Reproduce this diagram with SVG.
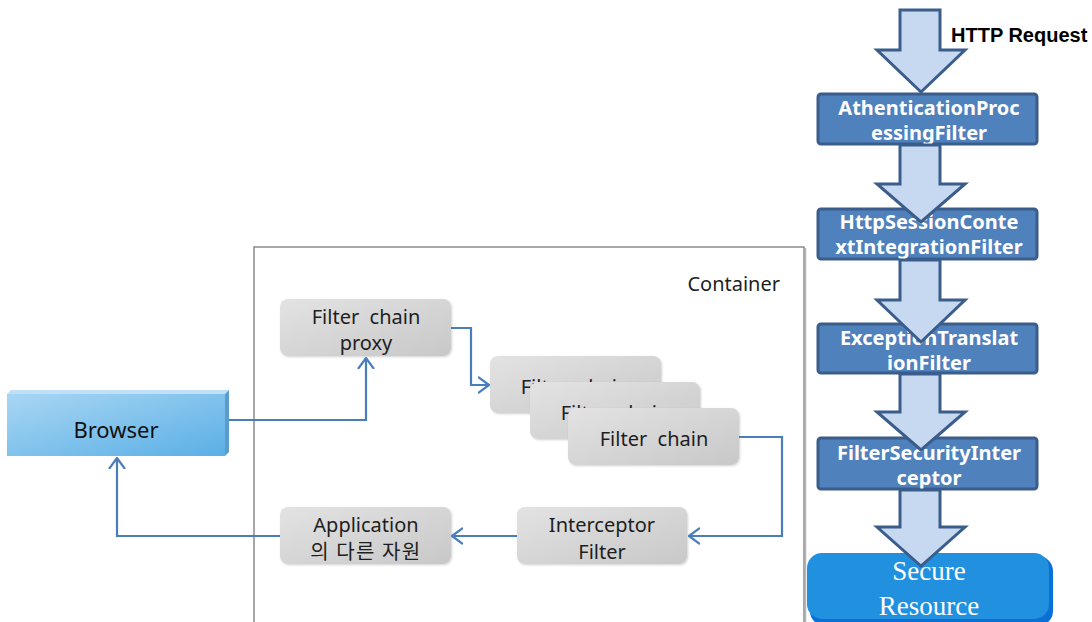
<svg xmlns="http://www.w3.org/2000/svg" width="1092" height="622" viewBox="0 0 1092 622">
  <defs>
    <linearGradient id="grayBox" x1="0" y1="0" x2="1" y2="1">
      <stop offset="0" stop-color="#e3e3e3"/>
      <stop offset="1" stop-color="#c8c8c8"/>
    </linearGradient>
    <linearGradient id="browserFace" x1="0" y1="0" x2="1" y2="1">
      <stop offset="0" stop-color="#a9d6f3"/>
      <stop offset="1" stop-color="#5aafe6"/>
    </linearGradient>
    <marker id="chevron" viewBox="0 0 12 18" refX="11" refY="9" markerWidth="12" markerHeight="18" markerUnits="userSpaceOnUse" orient="auto">
      <path d="M0,1 L11,9 L0,17" fill="none" stroke="#4a7ebb" stroke-width="2.2"/>
    </marker>
    <filter id="soft" x="-5%" y="-5%" width="115%" height="120%">
      <feDropShadow dx="1" dy="1" stdDeviation="1" flood-color="#000" flood-opacity="0.18"/>
    </filter>
  </defs>
  <style>
    .gbox { fill: url(#grayBox); filter: url(#soft); }
    .glabel { font-family: "Noto Sans", "Noto Sans CJK KR", sans-serif; font-size: 20px; fill: #1e1e1e; text-anchor: middle; white-space: pre; }
    .klabel { font-family: "Noto Sans CJK KR", sans-serif; font-size: 20px; fill: #1e1e1e; text-anchor: middle; white-space: pre; }
    .flow { fill: none; stroke: #4a7ebb; stroke-width: 2.2; }
    .sbox { fill: #4f81bd; stroke: #3a5d8b; stroke-width: 3; }
    .slabel { font-family: "Noto Sans", sans-serif; font-weight: bold; font-size: 20px; fill: #ffffff; text-anchor: middle; }
    .bigarrow { fill: #c6d9f0; stroke: #3a5d8b; stroke-width: 3; stroke-linejoin: miter; }
    .serif { font-family: "Liberation Serif", serif; font-size: 27px; fill: #ffffff; text-anchor: middle; }
  </style>

  <rect width="1092" height="622" fill="#ffffff"/>

  <!-- servlet container frame -->
  <g id="container">
    <path d="M254,622 V247 H804 V622" fill="none" stroke="#8a8a8a" stroke-width="1.5"/>
    <line x1="805.5" y1="248" x2="805.5" y2="622" stroke="#b5b5b5" stroke-width="1.5"/>
    <text x="780" y="291" font-family="Noto Sans, sans-serif" font-size="20" fill="#1e1e1e" text-anchor="end">Container</text>
  </g>

  <g id="browser">
    <polygon points="7,394 11,390 229,390 225,394" fill="#bfe0f6"/>
    <polygon points="225,394 229,390 229,452 225,456" fill="#5b9ccc"/>
    <rect x="7" y="394" width="218" height="62" fill="url(#browserFace)"/>
    <text x="116" y="438" font-family="Noto Sans, sans-serif" font-size="22" fill="#111" text-anchor="middle">Browser</text>
  </g>

  <g id="filter-chain-proxy">
    <rect class="gbox" x="280" y="299" width="171" height="57" rx="8"/>
    <text class="glabel" x="366" y="324">Filter  chain</text>
    <text class="glabel" x="366" y="350">proxy</text>
  </g>

  <g id="filter-chain-1">
    <rect class="gbox" x="490" y="356" width="171" height="57" rx="8"/>
    <text class="glabel" x="575" y="394">Filter  chain</text>
  </g>

  <g id="filter-chain-2">
    <rect class="gbox" x="530" y="382" width="170" height="57" rx="8"/>
    <text class="glabel" x="615" y="420">Filter  chain</text>
  </g>

  <g id="filter-chain-3">
    <rect class="gbox" x="568" y="408" width="171" height="57" rx="8"/>
    <text class="glabel" x="654" y="446">Filter  chain</text>
  </g>

  <g id="interceptor-filter">
    <rect class="gbox" x="517" y="507" width="170" height="57" rx="8"/>
    <text class="glabel" x="602" y="532">Interceptor</text>
    <text class="glabel" x="602" y="559">Filter</text>
  </g>

  <g id="application-resources">
    <rect class="gbox" x="280" y="507" width="171" height="57" rx="8"/>
    <text class="glabel" x="366" y="532">Application</text>
    <text class="klabel" x="366" y="559" letter-spacing="1.5">의 다른 자원</text>
  </g>

  <!-- request flow inside the container -->
  <g id="connectors">
    <path class="flow" d="M229,420 H366 V358" marker-end="url(#chevron)"/>
    <path class="flow" d="M451,328 H471 V385 H489" marker-end="url(#chevron)"/>
    <path class="flow" d="M739,437 H782 V536 H689" marker-end="url(#chevron)"/>
    <path class="flow" d="M517,536 H452" marker-end="url(#chevron)"/>
    <path class="flow" d="M280,536 H117 V458" marker-end="url(#chevron)"/>
  </g>

  <!-- security filter stack -->
  <g id="authentication-processing-filter">
    <rect class="sbox" x="818" y="94" width="219" height="50" rx="3"/>
    <text class="slabel" x="929" y="115">AthenticationProc</text>
    <text class="slabel" x="929" y="140">essingFilter</text>
  </g>

  <g id="http-session-context-integration-filter">
    <rect class="sbox" x="818" y="209" width="219" height="50" rx="3"/>
    <text class="slabel" x="929" y="229">HttpSessionConte</text>
    <text class="slabel" x="929" y="254">xtIntegrationFilter</text>
  </g>

  <g id="exception-translation-filter">
    <rect class="sbox" x="818" y="324" width="219" height="49" rx="3"/>
    <text class="slabel" x="929" y="345">ExceptionTranslat</text>
    <text class="slabel" x="929" y="370">ionFilter</text>
  </g>

  <g id="filter-security-interceptor">
    <rect class="sbox" x="818" y="438" width="219" height="51" rx="3"/>
    <text class="slabel" x="929" y="460">FilterSecurityInter</text>
    <text class="slabel" x="929" y="485">ceptor</text>
  </g>

  <g id="secure-resource">
    <rect x="810" y="556" width="243" height="70" rx="15" fill="#0b6fd8"/>
    <rect x="807" y="553" width="242" height="66" rx="15" fill="#2191df"/>
    <text class="serif" x="929" y="580">Secure</text>
    <text class="serif" x="929" y="615">Resource</text>
  </g>

  <g id="http-request-label">
    <text x="951" y="42" font-family="Liberation Sans, sans-serif" font-weight="bold" font-size="20" fill="#000">HTTP Request</text>
  </g>

  <!-- block arrows between the filters -->
  <g id="stack-arrows">
    <path class="bigarrow" d="M900,10 H940 V50 H965 L921,92 L877,50 H900 Z"/>
    <path class="bigarrow" d="M900,145 H940 V184 H965 L921,222 L877,184 H900 Z"/>
    <path class="bigarrow" d="M900,260 H940 V300 H965 L921,342 L877,300 H900 Z"/>
    <path class="bigarrow" d="M900,374 H940 V412 H965 L921,450 L877,412 H900 Z"/>
    <path class="bigarrow" d="M900,490 H940 V527 H965 L921,566 L877,527 H900 Z"/>
  </g>
</svg>
